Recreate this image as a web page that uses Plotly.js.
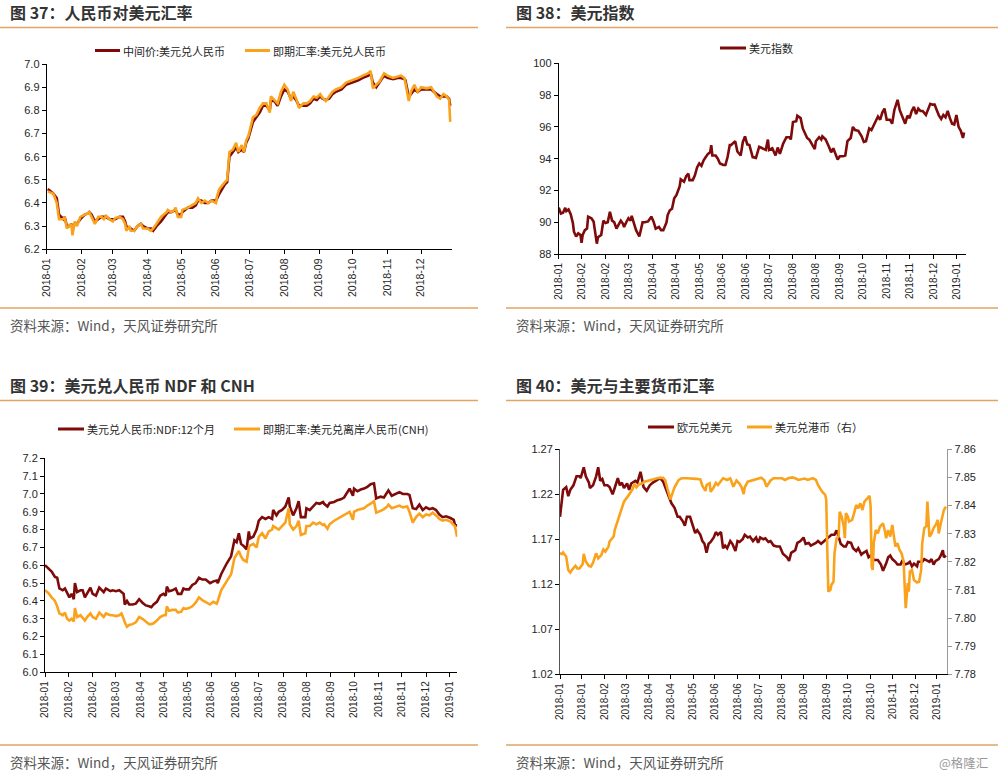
<!DOCTYPE html>
<html>
<head>
<meta charset="utf-8">
<script src="https://cdn.plot.ly/plotly-3.0.1.min.js"></script>
<style>html,body{margin:0;padding:0;background:#fff;}#chart{width:998px;height:774px;}</style>
</head>
<body>
<div id="chart"></div>
<script>
// ---------------- Panel 1: 人民币对美元汇率 ----------------
const dates1 = [
'2018-01-02','2018-01-07','2018-01-10','2018-01-12','2018-01-16','2018-01-17','2018-01-19','2018-01-21','2018-01-23','2018-01-24','2018-01-26','2018-01-28','2018-01-31',
'2018-02-04','2018-02-07','2018-02-08','2018-02-10','2018-02-13','2018-02-16','2018-02-19','2018-02-21','2018-02-23','2018-02-26',
'2018-03-01','2018-03-03','2018-03-07','2018-03-10','2018-03-12','2018-03-13','2018-03-16','2018-03-17','2018-03-20','2018-03-23','2018-03-26','2018-03-28',
'2018-04-01','2018-04-04','2018-04-06','2018-04-09','2018-04-13','2018-04-18','2018-04-19','2018-04-22','2018-04-25','2018-04-26','2018-04-28',
'2018-05-01','2018-05-02','2018-05-07','2018-05-11','2018-05-14','2018-05-16','2018-05-19','2018-05-22','2018-05-25','2018-05-28',
'2018-06-01','2018-06-02','2018-06-04','2018-06-09','2018-06-11','2018-06-13','2018-06-16','2018-06-19','2018-06-21','2018-06-24','2018-06-26','2018-06-28','2018-06-30',
'2018-07-04','2018-07-07','2018-07-10','2018-07-13','2018-07-16','2018-07-19','2018-07-20','2018-07-23','2018-07-26','2018-07-29',
'2018-08-01','2018-08-04','2018-08-07','2018-08-09','2018-08-12','2018-08-14','2018-08-18','2018-08-21','2018-08-24','2018-08-27','2018-08-30',
'2018-09-02','2018-09-04','2018-09-07','2018-09-10','2018-09-13','2018-09-16','2018-09-21','2018-09-25',
'2018-10-01','2018-10-06','2018-10-10','2018-10-15','2018-10-17','2018-10-19','2018-10-22','2018-10-25','2018-10-29',
'2018-11-01','2018-11-06','2018-11-10','2018-11-13','2018-11-16','2018-11-17','2018-11-20','2018-11-22','2018-11-25','2018-11-28',
'2018-12-01','2018-12-06','2018-12-10','2018-12-15','2018-12-18','2018-12-21','2018-12-24','2018-12-26','2018-12-27'];
const midRate1 = [
6.46,6.44,6.42,6.35,6.33,6.34,6.30,6.30,6.31,6.29,6.31,6.31,6.33,
6.35,6.355,6.36,6.35,6.32,6.33,6.34,6.34,6.34,6.33,
6.33,6.33,6.34,6.34,6.32,6.30,6.29,6.29,6.28,6.30,6.31,6.30,
6.29,6.29,6.28,6.30,6.32,6.35,6.36,6.36,6.37,6.37,6.35,
6.35,6.36,6.38,6.38,6.39,6.41,6.41,6.40,6.40,6.41,
6.41,6.42,6.44,6.48,6.49,6.60,6.62,6.64,6.62,6.63,6.62,6.66,6.68,
6.75,6.77,6.79,6.82,6.82,6.80,6.84,6.84,6.82,6.86,
6.89,6.88,6.85,6.86,6.84,6.82,6.82,6.82,6.83,6.85,6.845,
6.86,6.85,6.845,6.85,6.87,6.88,6.89,6.91,
6.92,6.93,6.94,6.95,6.96,6.92,6.90,6.92,6.95,
6.94,6.935,6.94,6.94,6.935,6.93,6.86,6.87,6.89,6.88,
6.89,6.89,6.89,6.87,6.86,6.86,6.86,6.85,6.82];
const spotRate1 = [
6.45,6.44,6.40,6.33,6.33,6.34,6.29,6.30,6.31,6.26,6.32,6.30,6.34,
6.35,6.355,6.36,6.34,6.31,6.34,6.34,6.33,6.345,6.33,
6.32,6.335,6.34,6.33,6.31,6.28,6.30,6.28,6.28,6.30,6.31,6.29,
6.29,6.28,6.29,6.31,6.34,6.36,6.37,6.36,6.37,6.38,6.34,
6.34,6.37,6.38,6.39,6.40,6.42,6.40,6.41,6.40,6.41,
6.40,6.43,6.46,6.49,6.50,6.62,6.63,6.66,6.62,6.65,6.62,6.67,6.69,
6.77,6.78,6.81,6.83,6.83,6.79,6.86,6.845,6.83,6.88,
6.91,6.89,6.84,6.88,6.845,6.81,6.83,6.83,6.84,6.86,6.855,
6.87,6.855,6.84,6.86,6.88,6.89,6.90,6.92,
6.93,6.94,6.95,6.96,6.97,6.895,6.91,6.925,6.96,
6.95,6.94,6.945,6.95,6.94,6.92,6.84,6.88,6.91,6.88,
6.90,6.895,6.90,6.86,6.85,6.87,6.86,6.845,6.75];
const tickDates1 = ['2018-01-01','2018-02-01','2018-03-01','2018-04-01','2018-05-01','2018-06-01','2018-07-01','2018-08-01','2018-09-01','2018-10-01','2018-11-01','2018-12-01'];
const tickText1 = ['2018-01','2018-02','2018-03','2018-04','2018-05','2018-06','2018-07','2018-08','2018-09','2018-10','2018-11','2018-12'];

// ---------------- Panel 2: 美元指数 ----------------
const dates2 = [
'2018-01-01','2018-01-03','2018-01-05','2018-01-07','2018-01-08','2018-01-10','2018-01-12','2018-01-14','2018-01-15','2018-01-17','2018-01-19','2018-01-21','2018-01-22','2018-01-23','2018-01-25','2018-01-27','2018-01-28','2018-01-31',
'2018-02-02','2018-02-04','2018-02-05','2018-02-06','2018-02-09','2018-02-11','2018-02-13','2018-02-15','2018-02-17','2018-02-19','2018-02-21','2018-02-23','2018-02-26','2018-02-27',
'2018-03-01','2018-03-02','2018-03-04','2018-03-06','2018-03-08','2018-03-09','2018-03-11','2018-03-13','2018-03-16','2018-03-19','2018-03-21','2018-03-24','2018-03-27','2018-03-29','2018-03-31',
'2018-04-03','2018-04-05','2018-04-07','2018-04-10','2018-04-11','2018-04-13','2018-04-15','2018-04-17','2018-04-19','2018-04-22','2018-04-23','2018-04-26','2018-04-28','2018-04-30',
'2018-05-01','2018-05-04','2018-05-06','2018-05-08','2018-05-10','2018-05-12','2018-05-14','2018-05-16','2018-05-18','2018-05-20','2018-05-21','2018-05-22','2018-05-25','2018-05-27','2018-05-29',
'2018-06-01','2018-06-03','2018-06-05','2018-06-07','2018-06-08','2018-06-10','2018-06-12','2018-06-14','2018-06-17','2018-06-19','2018-06-21','2018-06-23','2018-06-25','2018-06-28',
'2018-07-01','2018-07-04','2018-07-07','2018-07-10','2018-07-12','2018-07-13','2018-07-16','2018-07-19','2018-07-21','2018-07-23','2018-07-26','2018-07-29',
'2018-08-01','2018-08-02','2018-08-04','2018-08-07','2018-08-08','2018-08-11','2018-08-13','2018-08-15','2018-08-17','2018-08-19','2018-08-22','2018-08-24','2018-08-25','2018-08-28','2018-08-30','2018-08-31',
'2018-09-03','2018-09-05','2018-09-06','2018-09-08','2018-09-10','2018-09-12','2018-09-14','2018-09-16','2018-09-19','2018-09-21','2018-09-23','2018-09-26','2018-09-28','2018-09-30',
'2018-10-03','2018-10-06','2018-10-08','2018-10-10','2018-10-13','2018-10-15','2018-10-17','2018-10-19','2018-10-21','2018-10-23','2018-10-25','2018-10-27','2018-10-29',
'2018-11-01','2018-11-03','2018-11-05','2018-11-08','2018-11-10','2018-11-13','2018-11-15','2018-11-17','2018-11-19','2018-11-21','2018-11-23','2018-11-25','2018-11-27','2018-11-29',
'2018-12-01','2018-12-04','2018-12-06','2018-12-08','2018-12-10','2018-12-12','2018-12-14','2018-12-16','2018-12-18','2018-12-20','2018-12-22','2018-12-24','2018-12-26','2018-12-28','2018-12-30',
'2019-01-01','2019-01-03','2019-01-05','2019-01-07','2019-01-08'];
const dxy2 = [
90.92,90.55,90.6,90.9,90.7,90.8,90.5,89.95,89.4,89.1,89.3,89.2,88.7,89.2,89.5,89.6,90.35,90.25,
90.05,89.25,88.65,89.05,89.2,90.1,89.95,90.0,90.65,90.1,90.0,89.6,90.0,90.1,
89.9,89.7,90.0,90.25,90.1,90.4,89.95,89.5,89.1,90.0,90.0,90.05,90.35,90.05,89.6,
89.7,89.5,89.5,90.0,90.45,90.75,90.85,91.5,91.7,92.25,92.7,92.55,92.9,93.05,
92.65,92.65,92.95,93.45,93.7,93.55,93.9,94.1,94.3,94.4,94.85,94.2,94.2,94.0,93.7,
93.6,93.6,94.1,94.85,94.85,94.95,95.1,94.45,94.2,95.05,95.4,94.9,94.86,94.1,
94.05,94.75,94.65,94.55,95.2,94.55,94.65,94.2,94.7,94.3,94.95,95.35,
95.35,95.2,96.3,96.35,96.7,96.55,95.9,95.6,95.3,95.2,94.85,94.6,95.1,95.35,95.2,95.4,
95.2,94.95,94.75,94.4,94.65,94.3,93.95,94.15,94.15,94.2,95.1,95.3,96.0,95.8,
95.75,95.4,95.05,95.1,95.9,95.8,96.1,96.4,96.65,96.45,96.9,97.15,96.45,
96.45,96.2,97.05,97.7,97.05,96.55,96.2,96.7,96.55,97.0,97.25,96.8,97.15,97.0,
97.0,96.75,97.05,97.45,97.4,97.4,97.05,96.7,96.5,96.75,96.6,97.0,96.55,96.2,96.15,
96.75,96.0,95.75,95.3,95.65];
const tickDates234 = ['2018-01-01','2018-01-22','2018-02-13','2018-03-06','2018-03-28','2018-04-18','2018-05-10','2018-05-31','2018-06-22','2018-07-13','2018-08-04','2018-08-25','2018-09-16','2018-10-07','2018-10-29','2018-11-19','2018-12-11','2019-01-01'];
const tickText23 = ['2018-01','2018-02','2018-02','2018-03','2018-04','2018-04','2018-05','2018-06','2018-06','2018-07','2018-08','2018-08','2018-09','2018-10','2018-11','2018-11','2018-12','2019-01'];

// ---------------- Panel 3: 美元兑人民币 NDF 和 CNH ----------------
const dates3 = [
'2018-01-01','2018-01-04','2018-01-07','2018-01-10','2018-01-12','2018-01-14','2018-01-17','2018-01-19','2018-01-21','2018-01-23','2018-01-25','2018-01-27','2018-01-28','2018-01-30',
'2018-02-02','2018-02-04','2018-02-06','2018-02-08','2018-02-11','2018-02-13','2018-02-16','2018-02-19','2018-02-21','2018-02-23','2018-02-25',
'2018-03-01','2018-03-03','2018-03-06','2018-03-09','2018-03-11','2018-03-13','2018-03-14','2018-03-16','2018-03-18','2018-03-21','2018-03-24','2018-03-27','2018-03-30',
'2018-04-02','2018-04-05','2018-04-07','2018-04-09','2018-04-12','2018-04-15','2018-04-18','2018-04-20','2018-04-21','2018-04-23','2018-04-26','2018-04-29',
'2018-05-01','2018-05-04','2018-05-06','2018-05-08','2018-05-11','2018-05-14','2018-05-17','2018-05-20','2018-05-23','2018-05-26','2018-05-30',
'2018-06-02','2018-06-05','2018-06-06','2018-06-09','2018-06-14','2018-06-18','2018-06-21','2018-06-23','2018-06-25','2018-06-27','2018-06-29',
'2018-07-02','2018-07-04','2018-07-05','2018-07-08','2018-07-11','2018-07-13','2018-07-16','2018-07-19','2018-07-22','2018-07-25','2018-07-26','2018-07-29','2018-07-31',
'2018-08-03','2018-08-06','2018-08-09','2018-08-10','2018-08-13','2018-08-16','2018-08-18','2018-08-20','2018-08-24','2018-08-25','2018-08-28','2018-08-31',
'2018-09-03','2018-09-06','2018-09-09','2018-09-10','2018-09-13','2018-09-15','2018-09-19','2018-09-22','2018-09-25','2018-09-28',
'2018-10-01','2018-10-03','2018-10-06','2018-10-07','2018-10-10','2018-10-13','2018-10-16','2018-10-19','2018-10-22','2018-10-25','2018-10-27','2018-10-31',
'2018-11-03','2018-11-06','2018-11-07','2018-11-10','2018-11-13','2018-11-17','2018-11-20','2018-11-24','2018-11-26','2018-11-29',
'2018-12-02','2018-12-05','2018-12-08','2018-12-11','2018-12-14','2018-12-17','2018-12-20','2018-12-23','2018-12-26','2018-12-29',
'2019-01-02','2019-01-05','2019-01-06','2019-01-08'];
const ndf3 = [
6.60,6.58,6.565,6.535,6.53,6.47,6.46,6.47,6.44,6.42,6.44,6.41,6.50,6.45,
6.46,6.46,6.42,6.44,6.475,6.44,6.43,6.475,6.46,6.45,6.47,
6.455,6.46,6.455,6.46,6.45,6.44,6.38,6.40,6.38,6.38,6.385,6.41,6.39,
6.375,6.37,6.365,6.38,6.395,6.43,6.44,6.43,6.48,6.455,6.46,6.47,
6.44,6.44,6.47,6.465,6.465,6.49,6.50,6.53,6.52,6.52,6.50,
6.51,6.515,6.50,6.55,6.61,6.65,6.74,6.73,6.78,6.72,6.71,
6.69,6.79,6.75,6.76,6.80,6.85,6.87,6.86,6.87,6.86,6.91,6.88,6.90,
6.91,6.93,6.98,6.93,6.88,6.92,6.96,6.87,6.87,6.92,6.91,6.93,
6.95,6.945,6.955,6.945,6.93,6.95,6.955,6.965,6.97,6.98,
7.01,7.03,6.99,7.03,7.015,7.025,7.03,7.04,7.055,7.06,6.975,6.985,
6.98,7.01,7.02,6.99,7.00,7.01,7.00,7.00,6.995,6.92,
6.915,6.94,6.91,6.925,6.915,6.92,6.91,6.885,6.87,6.875,
6.865,6.855,6.83,6.82];
const cnh3 = [
6.46,6.445,6.42,6.40,6.37,6.33,6.32,6.335,6.30,6.29,6.30,6.285,6.36,6.31,
6.32,6.305,6.29,6.31,6.33,6.31,6.30,6.335,6.32,6.31,6.33,
6.32,6.32,6.315,6.32,6.33,6.30,6.28,6.255,6.265,6.27,6.28,6.31,6.30,
6.285,6.27,6.27,6.275,6.29,6.31,6.32,6.32,6.37,6.345,6.35,6.35,
6.335,6.34,6.36,6.355,6.36,6.37,6.39,6.42,6.405,6.395,6.38,
6.395,6.385,6.40,6.46,6.51,6.55,6.64,6.66,6.68,6.65,6.63,
6.62,6.70,6.71,6.72,6.70,6.76,6.78,6.75,6.79,6.80,6.82,6.81,6.80,
6.82,6.84,6.92,6.83,6.80,6.82,6.85,6.77,6.78,6.82,6.82,6.84,
6.83,6.84,6.825,6.83,6.805,6.83,6.85,6.86,6.87,6.88,
6.89,6.90,6.855,6.90,6.91,6.915,6.92,6.935,6.945,6.96,6.895,6.905,
6.915,6.93,6.94,6.92,6.925,6.935,6.925,6.93,6.90,6.84,
6.87,6.89,6.87,6.885,6.88,6.895,6.88,6.86,6.85,6.855,
6.845,6.83,6.82,6.76];

// ---------------- Panel 4: 美元与主要货币汇率 ----------------
const datesEur4 = [
'2018-01-01','2018-01-03','2018-01-04','2018-01-07','2018-01-09','2018-01-11','2018-01-14','2018-01-17','2018-01-20','2018-01-21','2018-01-24','2018-01-26','2018-01-29','2018-01-30',
'2018-02-02','2018-02-05','2018-02-07','2018-02-09','2018-02-11','2018-02-13','2018-02-16','2018-02-18','2018-02-21','2018-02-23','2018-02-26','2018-02-28',
'2018-03-02','2018-03-04','2018-03-07','2018-03-09','2018-03-11','2018-03-15','2018-03-17','2018-03-20','2018-03-21','2018-03-23','2018-03-26','2018-03-29',
'2018-04-01','2018-04-05','2018-04-08','2018-04-11','2018-04-13','2018-04-16','2018-04-19','2018-04-22','2018-04-25','2018-04-27','2018-04-30',
'2018-05-02','2018-05-04','2018-05-07','2018-05-10','2018-05-12','2018-05-14','2018-05-17','2018-05-19','2018-05-21','2018-05-23','2018-05-25','2018-05-27','2018-05-30',
'2018-06-01','2018-06-03','2018-06-06','2018-06-08','2018-06-10','2018-06-12','2018-06-15','2018-06-17','2018-06-20','2018-06-22','2018-06-24','2018-06-27','2018-06-29',
'2018-07-02','2018-07-04','2018-07-07','2018-07-10','2018-07-12','2018-07-14','2018-07-17','2018-07-19','2018-07-22','2018-07-24','2018-07-27','2018-07-30',
'2018-08-02','2018-08-05','2018-08-07','2018-08-09','2018-08-11','2018-08-13','2018-08-17','2018-08-19','2018-08-22','2018-08-25','2018-08-27','2018-08-30',
'2018-09-01','2018-09-03','2018-09-06','2018-09-08','2018-09-11','2018-09-13','2018-09-16','2018-09-18','2018-09-21','2018-09-24','2018-09-26','2018-09-28','2018-09-30',
'2018-10-03','2018-10-05','2018-10-07','2018-10-10','2018-10-12','2018-10-15','2018-10-17','2018-10-20','2018-10-22','2018-10-25','2018-10-27','2018-10-29',
'2018-11-01','2018-11-03','2018-11-05','2018-11-08','2018-11-10','2018-11-13','2018-11-15','2018-11-17','2018-11-19','2018-11-22','2018-11-24','2018-11-27','2018-11-29',
'2018-12-01','2018-12-04','2018-12-06','2018-12-08','2018-12-10','2018-12-13','2018-12-14','2018-12-18','2018-12-20','2018-12-22','2018-12-25','2018-12-27','2018-12-29','2018-12-31',
'2019-01-03','2019-01-05','2019-01-07','2019-01-08','2019-01-10'];
const eurUsd4 = [
1.195,1.215,1.225,1.228,1.218,1.225,1.23,1.24,1.24,1.238,1.25,1.24,1.233,1.227,
1.23,1.24,1.25,1.235,1.237,1.23,1.23,1.228,1.22,1.227,1.238,1.23,
1.233,1.227,1.232,1.225,1.232,1.235,1.233,1.245,1.238,1.228,1.224,1.23,
1.233,1.236,1.238,1.234,1.228,1.217,1.21,1.205,1.195,1.195,1.19,
1.185,1.195,1.195,1.183,1.177,1.18,1.175,1.168,1.165,1.155,1.165,1.167,1.172,
1.178,1.175,1.178,1.16,1.163,1.16,1.168,1.165,1.157,1.168,1.167,1.17,1.175,
1.172,1.173,1.168,1.172,1.166,1.172,1.17,1.171,1.167,1.168,1.163,1.162,
1.162,1.154,1.152,1.15,1.146,1.155,1.158,1.166,1.168,1.172,1.165,1.166,
1.163,1.164,1.166,1.168,1.165,1.167,1.17,1.171,1.175,1.175,1.18,1.173,1.165,
1.162,1.162,1.167,1.166,1.16,1.157,1.16,1.153,1.155,1.157,1.15,1.152,
1.147,1.147,1.147,1.142,1.135,1.143,1.15,1.152,1.148,1.145,1.142,1.142,1.147,
1.142,1.143,1.145,1.14,1.143,1.14,1.145,1.145,1.148,1.147,1.145,1.148,1.142,1.146,
1.148,1.152,1.158,1.15,1.152];
const datesHkd4 = [
'2018-01-01','2018-01-03','2018-01-04','2018-01-07','2018-01-09','2018-01-11','2018-01-13','2018-01-16','2018-01-18','2018-01-20','2018-01-23','2018-01-24','2018-01-26','2018-01-29','2018-01-31',
'2018-02-02','2018-02-05','2018-02-07','2018-02-10','2018-02-12','2018-02-14','2018-02-17','2018-02-18','2018-02-22','2018-02-23','2018-02-26','2018-02-28',
'2018-03-02','2018-03-04','2018-03-07','2018-03-10','2018-03-12','2018-03-14','2018-03-16','2018-03-19','2018-03-21','2018-03-24','2018-03-28','2018-03-31',
'2018-04-03','2018-04-06','2018-04-11','2018-04-13','2018-04-15','2018-04-17','2018-04-18','2018-04-20','2018-04-22','2018-04-26','2018-04-29',
'2018-05-04','2018-05-09','2018-05-13','2018-05-17','2018-05-19','2018-05-22','2018-05-23','2018-05-26','2018-05-27','2018-05-30',
'2018-06-01','2018-06-03','2018-06-06','2018-06-08','2018-06-12','2018-06-15','2018-06-18','2018-06-21','2018-06-24','2018-06-26','2018-06-28','2018-06-29',
'2018-07-02','2018-07-04','2018-07-07','2018-07-10','2018-07-12','2018-07-15','2018-07-18','2018-07-20','2018-07-22','2018-07-24','2018-07-27',
'2018-08-01','2018-08-04','2018-08-07','2018-08-10','2018-08-14','2018-08-17','2018-08-20','2018-08-23','2018-08-26','2018-08-29','2018-08-31',
'2018-09-03','2018-09-06','2018-09-08','2018-09-11','2018-09-12','2018-09-15','2018-09-16','2018-09-17','2018-09-18','2018-09-20','2018-09-21','2018-09-23','2018-09-24','2018-09-26','2018-09-28','2018-09-29',
'2018-10-01','2018-10-03','2018-10-04','2018-10-05','2018-10-07','2018-10-08','2018-10-11','2018-10-13','2018-10-15','2018-10-17','2018-10-19','2018-10-21','2018-10-23','2018-10-26','2018-10-28','2018-10-29','2018-10-30','2018-10-31',
'2018-11-01','2018-11-03','2018-11-05','2018-11-07','2018-11-10','2018-11-12','2018-11-13','2018-11-15','2018-11-17','2018-11-19','2018-11-21','2018-11-22','2018-11-24','2018-11-26','2018-11-28','2018-11-30',
'2018-12-01','2018-12-02','2018-12-04','2018-12-05','2018-12-06','2018-12-08','2018-12-10','2018-12-13','2018-12-15','2018-12-17','2018-12-18','2018-12-20','2018-12-22','2018-12-23','2018-12-25','2018-12-27','2018-12-29','2018-12-31',
'2019-01-02','2019-01-03','2019-01-05','2019-01-07','2019-01-08','2019-01-10'];
const usdHkd4 = [
7.8230,7.8228,7.8233,7.8218,7.8171,7.8162,7.8173,7.8186,7.8176,7.8177,7.8192,7.8228,7.8201,7.8185,7.8183,
7.8197,7.8230,7.8212,7.8224,7.8244,7.8236,7.8254,7.8272,7.8290,7.8313,7.8349,7.8373,
7.8396,7.8414,7.8429,7.8444,7.8456,7.8477,7.8465,7.8477,7.8477,7.8485,7.8489,7.8491,
7.8495,7.8498,7.8499,7.8490,7.8461,7.8432,7.8422,7.8444,7.8465,7.8491,7.8497,
7.8497,7.8497,7.8495,7.8493,7.8470,7.8452,7.8473,7.8479,7.8449,7.8465,
7.8481,7.8473,7.8485,7.8497,7.8491,7.8497,7.8467,7.8489,7.8477,7.8465,7.8441,7.8465,
7.8485,7.8487,7.8489,7.8493,7.8496,7.8499,7.8490,7.8467,7.8477,7.8489,7.8497,
7.8498,7.8497,7.8491,7.8497,7.8500,7.8497,7.8491,7.8493,7.8496,7.8491,7.8493,
7.8497,7.8491,7.8473,7.8455,7.8449,7.8438,7.8420,7.8242,7.8094,7.8100,7.8118,7.8129,7.8230,7.8284,7.8290,7.8378,
7.8360,7.8325,7.8284,7.8373,7.8360,7.8343,7.8349,7.8373,7.8402,7.8390,7.8408,7.8384,7.8414,7.8426,7.8434,7.8396,7.8183,7.8171,
7.8266,7.8313,7.8301,7.8325,7.8337,7.8307,7.8284,7.8313,7.8290,7.8331,7.8289,7.8254,7.8266,7.8242,7.8230,7.8200,
7.8112,7.8035,7.8124,7.8094,7.8165,7.8171,7.8135,7.8126,7.8129,7.8171,7.8266,7.8320,7.8327,7.8414,7.8289,7.8301,7.8320,7.8331,
7.8349,7.8301,7.8337,7.8378,7.8384,7.8396];
const tickText4 = ['2018-01','2018-01','2018-02','2018-03','2018-04','2018-04','2018-05','2018-06','2018-06','2018-07','2018-08','2018-08','2018-09','2018-10','2018-10','2018-11','2018-12','2019-01'];

// ---------------- Text ----------------
const titles = ['图 37：人民币对美元汇率','图 38：美元指数','图 39：美元兑人民币 NDF 和 CNH','图 40：美元与主要货币汇率'];
const sourceText = '资料来源：Wind，天风证券研究所';
const names1 = ['中间价:美元兑人民币','即期汇率:美元兑人民币'];
const names2 = ['美元指数'];
const names3 = ['美元兑人民币:NDF:12个月','即期汇率:美元兑离岸人民币(CNH)'];
const names4 = ['欧元兑美元','美元兑港币（右）'];
const watermark = '@格隆汇';

// ---------------- Drawing ----------------
const W = 998, H = 774;
const X = p => p / W, Y = p => 1 - p / H;
const RED = '#7E0A0A', ORG = '#FBA21C', RULE = '#E2A465';
const TXT = '#262626';
const FONT = 'Liberation Sans, Arial, sans-serif';
const CJK = 'Noto Sans CJK SC, sans-serif';

function line(x, y, xa, ya, color, name) {
  return {x: x, y: y, xaxis: xa, yaxis: ya, type: 'scatter', mode: 'lines', name: name,
          line: {color: color, width: 2.6, shape: 'linear'}, hoverinfo: 'skip'};
}
const traces = [
  line(dates1, midRate1, 'x', 'y', RED, names1[0]),
  line(dates1, spotRate1, 'x', 'y', ORG, names1[1]),
  line(dates2, dxy2, 'x2', 'y2', RED, names2[0]),
  line(dates3, ndf3, 'x3', 'y3', RED, names3[0]),
  line(dates3, cnh3, 'x3', 'y3', ORG, names3[1]),
  line(datesEur4, eurUsd4, 'x4', 'y4', RED, names4[0]),
  line(datesHkd4, usdHkd4, 'x4', 'y5', ORG, names4[1])
];

function xax(dom, anchor, range, tv, tt, fs) {
  return {domain: dom, anchor: anchor, type: 'date', range: range, tickmode: 'array', tickvals: tv, ticktext: tt,
          tickangle: -90, ticks: 'outside', ticklen: 4, tickcolor: '#000', showline: true, linecolor: '#000', linewidth: 1,
          showgrid: false, zeroline: false, tickfont: {family: FONT, size: fs, color: TXT}, fixedrange: true};
}
function yax(dom, anchor, range, dt, fmt) {
  return {domain: dom, anchor: anchor, range: range, dtick: dt, tick0: range[0], tickformat: fmt, ticks: 'outside', ticklen: 4,
          tickcolor: '#000', showline: true, linecolor: '#000', linewidth: 1, showgrid: false, zeroline: false,
          tickfont: {family: FONT, size: 11, color: TXT}, fixedrange: true};
}

const layout = {
  width: W, height: H, margin: {l: 0, r: 0, t: 0, b: 0}, paper_bgcolor: '#fff', plot_bgcolor: 'rgba(0,0,0,0)',
  showlegend: false, font: {family: FONT, color: TXT},
  xaxis: xax([X(46.7), X(452)], 'y', ['2018-01-01', '2018-12-28 14:00'], tickDates1, tickText1, 10.5),
  yaxis: yax([Y(249.3), Y(64)], 'x', [6.2, 7.0], 0.1, '.1f'),
  xaxis2: xax([X(558.7), X(966)], 'y2', ['2018-01-01', '2019-01-09 19:00'], tickDates234, tickText23, 10),
  yaxis2: yax([Y(254), Y(63.3)], 'x2', [88, 100], 2, 'd'),
  xaxis3: xax([X(45), X(457.3)], 'y3', ['2018-01-01', '2019-01-08 05:00'], tickDates234, tickText23, 10),
  yaxis3: yax([Y(672.3), Y(458.3)], 'x3', [6.0, 7.2], 0.1, '.1f'),
  xaxis4: xax([X(560), X(947.3)], 'y4', ['2018-01-01', '2019-01-11 07:00'], tickDates234, tickText4, 10),
  yaxis4: Object.assign(yax([Y(674.3), Y(449.3)], 'x4', [1.02, 1.27], 0.05, '.2f'), {linecolor: '#555'}),
  yaxis5: Object.assign(yax([Y(674.3), Y(449.3)], 'x4', [7.78, 7.86], 0.01, '.2f'), {overlaying: 'y4', side: 'right', linecolor: '#999', tickcolor: '#999'}),
  shapes: [], annotations: []
};

function hline(x0, x1, py, color, w) {
  layout.shapes.push({type: 'line', xref: 'paper', yref: 'paper', x0: X(x0), x1: X(x1), y0: Y(py), y1: Y(py),
                      line: {color: color, width: w}});
}
function text(t, px, py, size, color, bold, anchor) {
  layout.annotations.push({text: bold ? '<b>' + t + '</b>' : t, xref: 'paper', yref: 'paper', x: X(px), y: Y(py),
    xanchor: anchor || 'left', yanchor: 'middle', showarrow: false, font: {family: CJK, size: size, color: color}});
}
function legendItem(x0, x1, py, color, label) {
  layout.shapes.push({type: 'line', xref: 'paper', yref: 'paper', x0: X(x0), x1: X(x1), y0: Y(py), y1: Y(py),
                      line: {color: color, width: 3}});
  text(label, x1 + 1, py, 11, TXT, false);
}

// rules
hline(0, 478, 27.5, RULE, 1.5); hline(506, 998, 27.5, RULE, 1.5);
hline(0, 478, 308, RULE, 1.5); hline(506, 998, 308, RULE, 1.5);
hline(0, 478, 400.5, RULE, 1.5); hline(506, 998, 400.5, RULE, 1.5);
hline(0, 478, 745, RULE, 1.5); hline(506, 998, 745, RULE, 1.5);
// titles
text(titles[0], 8, 12.5, 16, '#333', true);
text(titles[1], 514, 12.5, 16, '#333', true);
text(titles[2], 8, 384.5, 16, '#333', true);
text(titles[3], 514, 384.5, 16, '#333', true);
// sources
text(sourceText, 8, 325, 13.5, '#555', false);
text(sourceText, 514, 325, 13.5, '#555', false);
text(sourceText, 8, 762, 13.5, '#555', false);
text(sourceText, 514, 762, 13.5, '#555', false);
text(watermark, 990, 762, 12.5, '#999', false, 'right');
// legends
legendItem(95, 120, 50.5, RED, names1[0]);
legendItem(245, 270, 50.5, ORG, names1[1]);
legendItem(720, 746, 48, RED, names2[0]);
legendItem(58, 84, 429, RED, names3[0]);
legendItem(234, 260, 429, ORG, names3[1]);
legendItem(648, 674, 427, RED, names4[0]);
legendItem(747, 772, 427, ORG, names4[1]);

Plotly.newPlot('chart', traces, layout, {staticPlot: true, displayModeBar: false});
</script>
</body>
</html>
